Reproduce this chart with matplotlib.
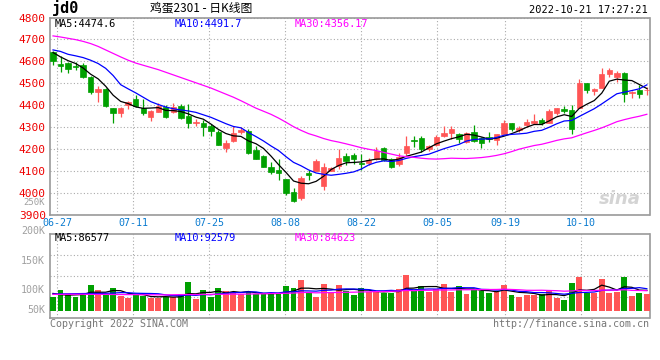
import matplotlib.pyplot as plt
import numpy as np
import pandas as pd

plt.rcParams['font.family'] = ['DejaVu Sans Mono']

# daily candles, 2022-06-24 .. 2022-10-21 (80 sessions)
opens = [4644, 4586, 4591, 4580, 4585, 4530, 4461, 4472, 4385, 4362,
         4400, 4428, 4386, 4347, 4370, 4393, 4370, 4396, 4352, 4318,
         4317, 4303, 4278, 4203, 4237, 4275, 4283, 4196, 4169, 4119,
         4103, 4062, 4004, 3975, 4090, 4100, 4031, 4100, 4122, 4167,
         4170, 4137, 4137, 4155, 4204, 4152, 4132, 4182, 4239, 4250,
         4198, 4216, 4259, 4274, 4270, 4232, 4277, 4250, 4254, 4242,
         4270, 4318, 4285, 4311, 4318, 4330, 4318, 4365, 4383, 4377,
         4387, 4500, 4465, 4480, 4540, 4528, 4547, 4454, 4469, 4468]
highs = [4647, 4626, 4595, 4598, 4590, 4532, 4489, 4476, 4388, 4390,
         4420, 4446, 4427, 4376, 4410, 4400, 4411, 4405, 4404, 4336,
         4330, 4315, 4288, 4240, 4305, 4300, 4290, 4212, 4170, 4142,
         4152, 4064, 4020, 4076, 4105, 4155, 4137, 4118, 4200, 4181,
         4181, 4176, 4158, 4208, 4210, 4158, 4181, 4259, 4259, 4259,
         4218, 4262, 4303, 4303, 4274, 4278, 4307, 4255, 4277, 4268,
         4334, 4320, 4305, 4338, 4361, 4342, 4380, 4389, 4394, 4400,
         4521, 4503, 4480, 4570, 4570, 4555, 4550, 4465, 4494, 4483]
lows = [4583, 4553, 4548, 4560, 4525, 4450, 4413, 4392, 4320, 4347,
        4381, 4393, 4355, 4328, 4368, 4340, 4362, 4338, 4294, 4305,
        4260, 4260, 4216, 4186, 4232, 4268, 4175, 4154, 4117, 4085,
        4060, 3990, 3958, 3968, 4058, 4098, 4012, 4098, 4110, 4125,
        4133, 4105, 4125, 4150, 4145, 4115, 4122, 4171, 4210, 4188,
        4190, 4212, 4254, 4243, 4225, 4225, 4232, 4205, 4232, 4220,
        4268, 4280, 4278, 4300, 4315, 4308, 4316, 4355, 4362, 4270,
        4385, 4457, 4445, 4478, 4530, 4505, 4414, 4434, 4433, 4448]
closes = [4603, 4578, 4565, 4572, 4530, 4461, 4472, 4397, 4366, 4388,
          4412, 4396, 4364, 4373, 4398, 4347, 4393, 4342, 4320, 4324,
          4299, 4283, 4219, 4226, 4271, 4286, 4180, 4155, 4119, 4096,
          4092, 4000, 3960, 4069, 4083, 4147, 4117, 4114, 4160, 4145,
          4155, 4129, 4148, 4189, 4151, 4117, 4163, 4211, 4236, 4201,
          4214, 4254, 4272, 4292, 4244, 4272, 4235, 4229, 4243, 4266,
          4318, 4292, 4295, 4323, 4329, 4318, 4374, 4387, 4372, 4290,
          4500, 4470, 4472, 4542, 4562, 4547, 4449, 4460, 4452, 4470]
volumes = [59200, 87400, 69100, 59200, 66300, 108600, 87400, 69100, 95900, 62000,
           55000, 66300, 62000, 55000, 55000, 59200, 56400, 69100, 122700, 49400,
           87400, 59200, 95900, 83200, 79000, 69100, 79000, 69100, 69100, 73300,
           73300, 104300, 95900, 129700, 73300, 59200, 112800, 80400, 108600, 84600,
           66300, 95900, 80400, 79000, 76100, 76100, 91700, 150900, 83200, 104300,
           80400, 91700, 112800, 80400, 104300, 70500, 91700, 83200, 74700, 80400,
           108600, 66300, 57800, 66300, 66300, 70500, 83200, 53600, 45100, 117000,
           142400, 73300, 73300, 134000, 76100, 80400, 142400, 62000, 74700, 70500]

# moving averages before enough sessions are on screen
price_ma5_head = [4640, 4620, 4603, 4590]
price_ma10_head = [4652, 4645, 4632, 4625, 4617, 4605, 4590, 4568, 4535]
price_ma30_head = [4716, 4711, 4705, 4699, 4691, 4681, 4668, 4652, 4636, 4620,
                   4605, 4592, 4582, 4572, 4562, 4550, 4538, 4526, 4514, 4502,
                   4490, 4478, 4464, 4450, 4436, 4420, 4403, 4386, 4372]
vol_ma5_head = [73000, 68000, 66000, 67000]
vol_ma10_head = [70500, 71000, 71500, 72000, 72500, 73000, 73000, 73500, 74500]
vol_ma30_head = [69000, 69000, 69500, 69500, 69500, 69000, 69000, 69000, 68500, 68500,
                 68000, 68000, 67500, 67500, 67000, 67000, 67500, 68000, 68500, 68500,
                 69000, 69000, 69500, 69500, 70000, 70000, 70500, 71000, 71500]

tick_idx = [1, 11, 21, 31, 41, 51, 60, 70]
tick_labels = ['06-27', '07-11', '07-25', '08-08', '08-22', '09-05', '09-19', '10-10']


def moving_average(values, n, head):
    ma = pd.Series(values, dtype=float).rolling(n).mean().to_numpy()
    ma[:len(head)] = head
    return ma


RED = '#ff5555'
GREEN = '#00a000'
GRID = dict(color='#aaaaaa', linestyle=(0, (1, 2)), linewidth=0.8)
FRAME = '#999999'

o = np.array(opens, dtype=float)
c = np.array(closes, dtype=float)
x = np.arange(len(c))
colors = [RED if cc >= oo else GREEN for oo, cc in zip(o, c)]
tick_pos = [i * 1.01 - 0.43 for i in tick_idx]

fig = plt.figure(figsize=(6.6, 3.6), dpi=100)
ax = fig.add_axes([50 / 660, 1 - 214.6 / 360, 599.5 / 660, 197.1 / 360])
axv = fig.add_axes([50 / 660, 1 - 318 / 360, 599.5 / 660, 84 / 360])

# price panel
ax.vlines(x, lows, highs, colors=colors, linewidth=0.9, zorder=3)
ax.bar(x, np.abs(c - o), bottom=np.minimum(o, c), width=0.72,
       color=colors, edgecolor=colors, linewidth=0.5, zorder=3)
ax.plot(x, moving_average(closes, 5, price_ma5_head), color='black', lw=0.9, zorder=4)
ax.plot(x, moving_average(closes, 10, price_ma10_head), color='#0000ff', lw=0.9, zorder=4)
ax.plot(x, moving_average(closes, 30, price_ma30_head), color='#ff00ff', lw=0.9, zorder=4)

ax.set_xlim(-0.4, 79.35)
ax.set_ylim(3900, 4800)
ax.set_yticks(range(3900, 4801, 100))
ax.set_xticks(tick_pos)
ax.set_xticklabels(tick_labels)
ax.tick_params(axis='y', length=0, pad=3, labelsize=8, labelcolor='#ee0000')
ax.tick_params(axis='x', length=0, pad=2.5, labelsize=7.2, labelcolor='#0a7bd0')
ax.grid(True, **GRID)

ax.text(0.008, 0.965, 'MA5:4474.6', transform=ax.transAxes, color='black', fontsize=7.4, va='center')
ax.text(0.208, 0.965, 'MA10:4491.7', transform=ax.transAxes, color='#0000ff', fontsize=7.4, va='center')
ax.text(0.408, 0.965, 'MA30:4356.17', transform=ax.transAxes, color='#ff00ff', fontsize=7.4, va='center')
ax.text(-0.008, 0.062, '250K', transform=ax.transAxes, color='#a0a0a0', fontsize=6.5, ha='right', va='center')
ax.text(0.985, 0.08, 'sina', transform=ax.transAxes, color='#d4d4d4', fontsize=13,
        style='italic', weight='bold', family='DejaVu Sans', ha='right', va='center')

# volume panel
axv.bar(x, volumes, width=0.78, color=colors, zorder=3)
axv.plot(x, moving_average(volumes, 5, vol_ma5_head), color='black', lw=0.9, zorder=4)
axv.plot(x, moving_average(volumes, 10, vol_ma10_head), color='#0000ff', lw=0.9, zorder=4)
axv.plot(x, moving_average(volumes, 30, vol_ma30_head), color='#ff00ff', lw=0.9, zorder=4)

lo, hi = -30900, 324400
axv.set_xlim(-0.4, 79.35)
axv.set_ylim(lo, hi)
axv.set_yticks([lo + (hi - lo) * f for f in (0.25, 0.5, 0.75)])
axv.set_xticks(tick_pos)
axv.tick_params(length=0, labelleft=False, labelbottom=False)
axv.grid(True, **GRID)

for label, f in [('200K', 1.036), ('150K', 0.679), ('100K', 0.333), ('50K', 0.095)]:
    axv.text(-0.008, f, label, transform=axv.transAxes, color='#a0a0a0',
             fontsize=7.2, ha='right', va='center')

axv.text(0.008, 0.95, 'MA5:86577', transform=axv.transAxes, color='black', fontsize=7.4, va='center')
axv.text(0.208, 0.95, 'MA10:92579', transform=axv.transAxes, color='#0000ff', fontsize=7.4, va='center')
axv.text(0.408, 0.95, 'MA30:84623', transform=axv.transAxes, color='#ff00ff', fontsize=7.4, va='center')

for a in (ax, axv):
    for s in a.spines.values():
        s.set_color(FRAME)
        s.set_linewidth(1.2)

# header and footer
fig.text(52 / 660, 1 - 8 / 360, 'jd0', fontsize=11, weight='bold', va='center')
fig.text(201 / 660, 1 - 8 / 360, '鸡蛋2301 - 日K线图', fontsize=8.5, ha='center', va='center',
         family=['Noto Sans CJK SC', 'DejaVu Sans'])
fig.text(648 / 660, 1 - 10 / 360, '2022-10-21 17:27:21', fontsize=7.5, ha='right', va='center')
fig.text(50 / 660, 1 - 324 / 360, 'Copyright 2022 SINA.COM', fontsize=7.2, color='#777777', va='center')
fig.text(649 / 660, 1 - 324 / 360, 'http://finance.sina.com.cn', fontsize=7.2, color='#777777',
         ha='right', va='center')

fig.savefig('out.png', dpi=100)
